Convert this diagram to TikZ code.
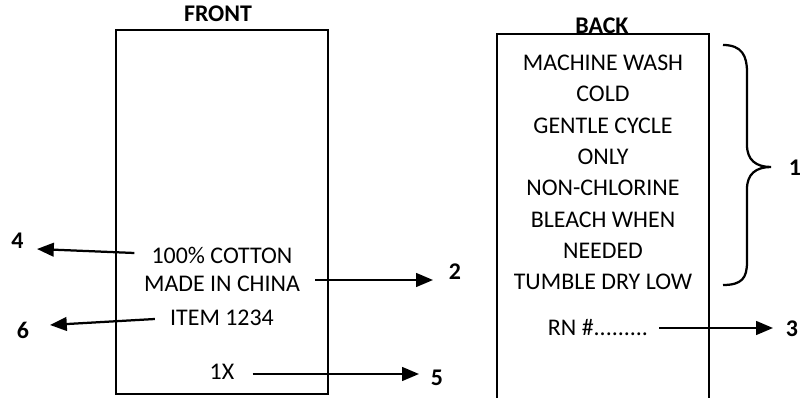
\documentclass[tikz,border=0pt]{standalone}
\usepackage{fontspec}
\setmainfont{Carlito}
\usetikzlibrary{arrows.meta,calc}

\tikzset{
  tagtext/.style={font=\fontsize{17}{20}\selectfont, inner sep=0pt},
  tagnum/.style={font=\fontsize{17}{20}\selectfont\bfseries, inner sep=0pt},
  tagarrow/.style={line width=1.6pt, -{Triangle[length=0.42cm,width=0.34cm]}},
  tagbox/.style={draw, line width=1.6pt},
}

\begin{document}
\begin{tikzpicture}[x=0.025cm, y=-0.025cm]
  \useasboundingbox (0,0) rectangle (802,398);

  % ============ FRONT LABEL ============
  \draw[tagbox] (116,30) rectangle (328,394);
  \node[tagnum] (fronttitle) at (218,14) {FRONT};

  \node[tagtext] (cotton) at (222,255) {100\% COTTON};
  \node[tagtext] (origin) at (222,284) {MADE IN CHINA};
  \node[tagtext] (item)   at (222,318) {ITEM 1234};
  \node[tagtext] (size)   at (222,372) {1X};

  % ---- Callout numbers ----
  \node[tagnum] (n4) at (17.5,241) {4};
  \node[tagnum] (n2) at (455,272) {2};
  \node[tagnum] (n6) at (23,330) {6};
  \node[tagnum] (n5) at (437,378) {5};

  \coordinate (tip4) at (37,249);
  \coordinate (tip2) at (433,280);
  \coordinate (tip6) at (50,325);
  \coordinate (tip5) at (419,374);

  \draw[tagarrow] ($(cotton.west)+(-17,-2)$) -- (tip4);
  \draw[tagarrow] ($(origin.east)+(15,-4)$) -- (tip2);
  \draw[tagarrow] ($(item.west)+(-15,1)$) -- (tip6);
  \draw[tagarrow] ($(size.east)+(18,2)$) -- (tip5);

  % ============ BACK LABEL ============
  \draw[tagbox] (497,34) rectangle (709,404);
  \node[tagnum] (backtitle) at (602,26) {BACK};

  \node[tagtext, font=\fontsize{17}{22.3}\selectfont, align=center] (care)
    at (603,172.5)
    {MACHINE WASH\\COLD\\GENTLE CYCLE\\ONLY\\NON-CHLORINE\\BLEACH WHEN\\NEEDED\\TUMBLE DRY LOW};

  \node[tagtext] (rn) at (598,328) {RN \#.........};

  % ---- Brace and callouts ----
  \coordinate (bracetip) at (771,167);
  \draw[line width=1.6pt]
    (723,45) .. controls (742,45) and (747,56) .. (747,72) -- (747,145)
    .. controls (747,160) and (756,167) .. (bracetip)
    .. controls (756,167) and (747,174) .. (747,189) -- (747,262)
    .. controls (747,278) and (742,285) .. (723,285);
  \node[tagnum] (n1) at (795,168) {1};

  \node[tagnum] (n3) at (792,329) {3};
  \coordinate (tip3) at (773,328);
  \draw[tagarrow] ($(rn.east)+(11,0)$) -- (tip3);

\end{tikzpicture}
\end{document}
